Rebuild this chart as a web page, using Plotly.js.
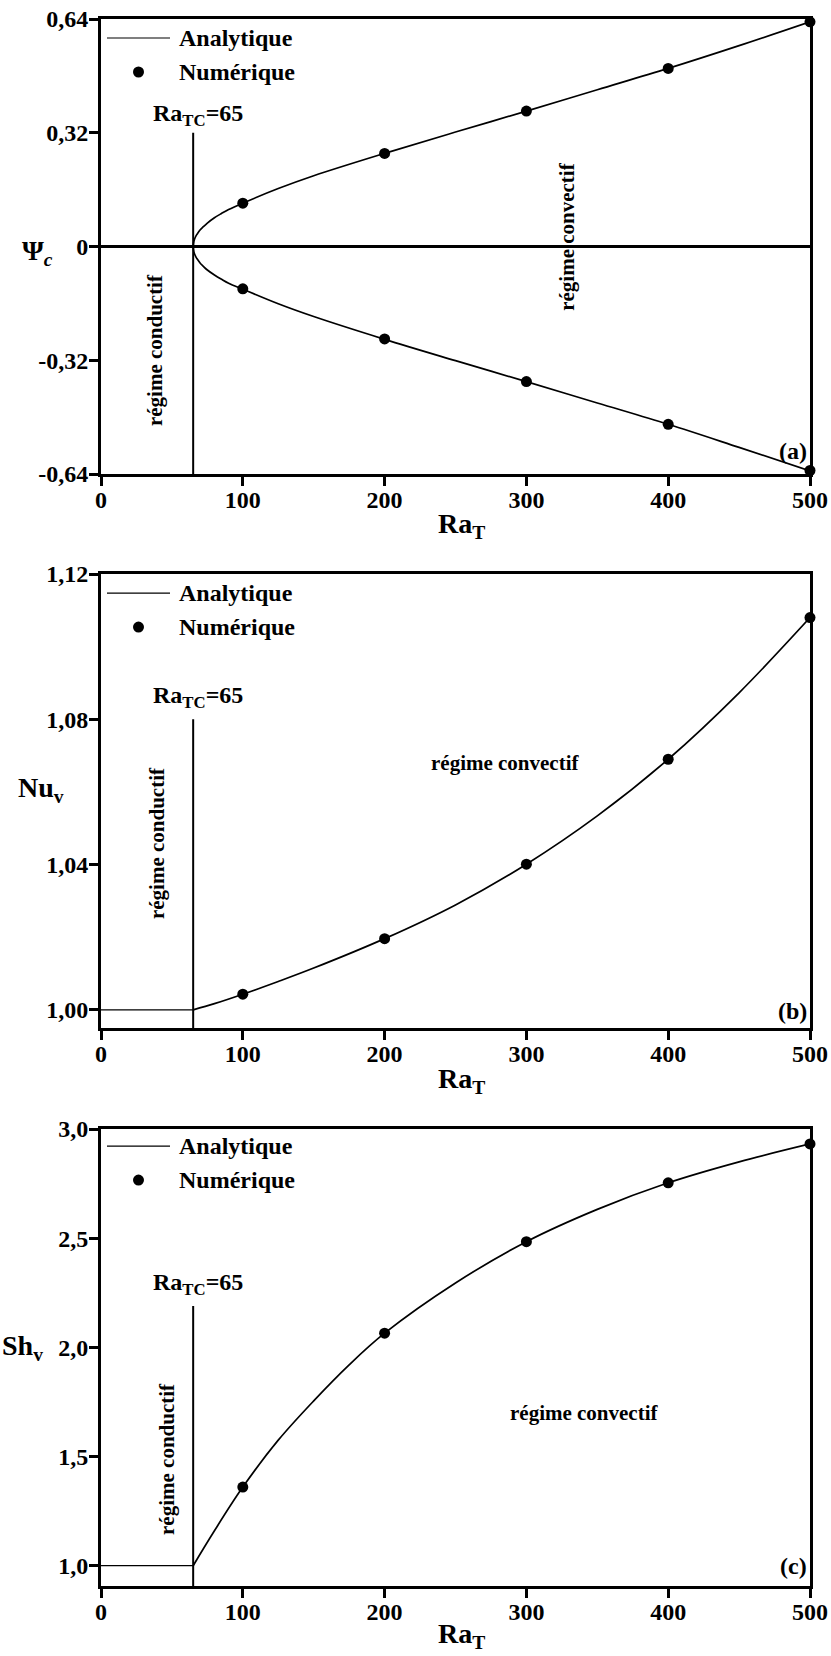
<!DOCTYPE html>
<html>
<head>
<meta charset="utf-8">
<script src="https://cdn.plot.ly/plotly-3.0.1.min.js"></script>
<style>html,body{margin:0;padding:0;background:#fff;}#chart{width:831px;height:1656px;}</style>
</head>
<body>
<div id="chart"></div>
<script>
// ---------- data ----------
const raTC = 65;
const raTicks = [0, 100, 200, 300, 400, 500];
const raTickText = ['0', '100', '200', '300', '400', '500'];

// numerical results
const raNum = [100, 200, 300, 400, 500];
const psiNumUp = [0.122, 0.262, 0.381, 0.501, 0.632];
const psiNumLow = [-0.119, -0.260, -0.380, -0.500, -0.630];
const nuNum = [1.0043, 1.0196, 1.0401, 1.0690, 1.1080];
const shNum = [1.360, 2.065, 2.484, 2.754, 2.932];

// analytical curves
const psiRa = [65, 65.5, 66, 67, 68, 70, 72, 75, 80, 85, 90, 100, 125, 150, 200, 250, 300, 350, 400, 450, 500];
const psiAnaUp = [0, 0.015, 0.021, 0.030, 0.036, 0.047, 0.055, 0.066, 0.081, 0.093, 0.104, 0.122, 0.163, 0.199, 0.262, 0.322, 0.381, 0.441, 0.501, 0.565, 0.632];
const psiAnaLow = [0, -0.015, -0.021, -0.030, -0.036, -0.047, -0.055, -0.066, -0.080, -0.092, -0.103, -0.120, -0.161, -0.197, -0.261, -0.321, -0.380, -0.440, -0.500, -0.565, -0.631];

const condRa = [0, 65];
const nuCond = [1, 1];
const shCond = [1, 1];

const nuRa = [65, 80, 100, 125, 150, 200, 250, 300, 350, 400, 450, 500];
const nuAna = [1.0, 1.0017, 1.0043, 1.0078, 1.0115, 1.0196, 1.0289, 1.0401, 1.0534, 1.0690, 1.0873, 1.1080];

const shRa = [65, 80, 100, 125, 150, 175, 200, 250, 300, 350, 400, 450, 500];
const shAna = [1.0, 1.16, 1.36, 1.575, 1.755, 1.92, 2.065, 2.295, 2.484, 2.632, 2.754, 2.85, 2.932];

// axis ticks
const psiTicks = [-0.64, -0.32, 0, 0.32, 0.64];
const psiTickText = ['-0,64', '-0,32', '0', '0,32', '0,64'];
const nuTicks = [1.00, 1.04, 1.08, 1.12];
const nuTickText = ['1,00', '1,04', '1,08', '1,12'];
const shTicks = [1.0, 1.5, 2.0, 2.5, 3.0];
const shTickText = ['1,0', '1,5', '2,0', '2,5', '3,0'];

const legendLabels = ['Analytique', 'Numérique'];
const panelLetters = ['(a)', '(b)', '(c)'];
const yTitles = ['Ψ<sub><i>c</i></sub>', 'Nu<sub>v</sub>', 'Sh<sub>v</sub>'];
const xTitle = 'Ra<sub>T</sub>';
const critLabel = 'Ra<sub>TC</sub>=65';
const condLabel = 'régime conductif';
const convLabel = 'régime convectif';
const critTop = [0.32, 1.08, 2.19];

// ---------- styling ----------
const FONT = 'Liberation Serif, Times New Roman, serif';
const BLACK = '#000';
const anaLine = {color: BLACK, width: 1.7, shape: 'spline', smoothing: 1};
const condLine = {color: BLACK, width: 1.2};
const numMarker = {color: BLACK, size: 11, symbol: 'circle'};

const traces = [];
// panel (a)
traces.push({x: psiRa.slice().reverse().concat(psiRa), y: psiAnaUp.slice().reverse().concat(psiAnaLow),
  mode: 'lines', line: anaLine, name: legendLabels[0], xaxis: 'x', yaxis: 'y', showlegend: false, cliponaxis: false});
traces.push({x: raNum.concat(raNum), y: psiNumUp.concat(psiNumLow), mode: 'markers', marker: numMarker,
  name: legendLabels[1], xaxis: 'x', yaxis: 'y', showlegend: false, cliponaxis: false});
// panel (b)
traces.push({x: condRa, y: nuCond, mode: 'lines', line: condLine, name: legendLabels[0], xaxis: 'x2', yaxis: 'y2', showlegend: false});
traces.push({x: nuRa, y: nuAna, mode: 'lines', line: anaLine, name: legendLabels[0], xaxis: 'x2', yaxis: 'y2', showlegend: false, cliponaxis: false});
traces.push({x: raNum, y: nuNum, mode: 'markers', marker: numMarker, name: legendLabels[1], xaxis: 'x2', yaxis: 'y2', showlegend: false, cliponaxis: false});
// panel (c)
traces.push({x: condRa, y: shCond, mode: 'lines', line: condLine, name: legendLabels[0], xaxis: 'x3', yaxis: 'y3', showlegend: false});
traces.push({x: shRa, y: shAna, mode: 'lines', line: anaLine, name: legendLabels[0], xaxis: 'x3', yaxis: 'y3', showlegend: false, cliponaxis: false});
traces.push({x: raNum, y: shNum, mode: 'markers', marker: numMarker, name: legendLabels[1], xaxis: 'x3', yaxis: 'y3', showlegend: false, cliponaxis: false});

function xAxis(anchor) {
  return {anchor: anchor, domain: [0, 1], range: [0, 500], tickvals: raTicks, ticktext: raTickText,
    showline: true, linewidth: 3, linecolor: BLACK, mirror: true, ticks: 'outside', ticklen: 9, tickwidth: 3,
    tickcolor: BLACK, showgrid: false, zeroline: false, ticklabelstandoff: -7,
    tickfont: {family: FONT, size: 24, color: BLACK, weight: 'bold'}};
}
function yAxis(anchor, domain, range, vals, text, zl) {
  return {anchor: anchor, domain: domain, range: range, tickvals: vals, ticktext: text,
    showline: true, linewidth: 3, linecolor: BLACK, mirror: true, ticks: 'outside', ticklen: 9, tickwidth: 3,
    tickcolor: BLACK, showgrid: false, zeroline: zl, zerolinewidth: 3, zerolinecolor: BLACK, ticklabelstandoff: -4,
    tickfont: {family: FONT, size: 24, color: BLACK, weight: 'bold'}};
}

const shapes = [];
const annotations = [];
const axIds = [['x', 'y'], ['x2', 'y2'], ['x3', 'y3']];
const bottoms = [-0.64, 0.995, 0.907];

const condPos = [[37.7, -0.29], [39, 1.046], [46, 1.49]];
const convPos = [[328.6, 0.03, -90], [285, 1.068, 0], [341, 1.70, 0]];
const critShift = [1, 5, 5];
const yTitlePos = [[-0.089, -6], [-0.085, 12], [-0.111, 10]];
const xTitleShift = [-32, -33, -30];
const letterShift = [8, 2, 5];
const legTop = [19, 19, 17];

axIds.forEach(function (ids, i) {
  const xr = ids[0], yr = ids[1];
  const xd = xr + ' domain', yd = yr + ' domain';
  // critical Rayleigh number marker
  shapes.push({type: 'line', xref: xr, yref: yr, x0: raTC, x1: raTC, y0: bottoms[i], y1: critTop[i],
    line: {color: BLACK, width: 2}});
  // legend: line sample and marker sample
  shapes.push({type: 'line', xref: xd, yref: yd, xsizemode: 'pixel', ysizemode: 'pixel', xanchor: 0, yanchor: 1,
    x0: 6, x1: 69, y0: -legTop[i], y1: -legTop[i], line: {color: BLACK, width: 1.2}});
  shapes.push({type: 'circle', xref: xd, yref: yd, xsizemode: 'pixel', ysizemode: 'pixel', xanchor: 0, yanchor: 1,
    x0: 32, x1: 43, y0: -legTop[i] - 39.5, y1: -legTop[i] - 28.5, fillcolor: BLACK, line: {width: 0}});
  const f24 = {family: FONT, size: 24, color: BLACK, weight: 'bold'};
  const f21 = {family: FONT, size: 21, color: BLACK, weight: 'bold'};
  const f28 = {family: FONT, size: 28, color: BLACK, weight: 'bold'};
  annotations.push({xref: xd, yref: yd, x: 0, y: 1, xshift: 76, yshift: -legTop[i], xanchor: 'left', yanchor: 'middle',
    text: '<b>' + legendLabels[0] + '</b>', showarrow: false, font: f24});
  annotations.push({xref: xd, yref: yd, x: 0, y: 1, xshift: 76, yshift: -legTop[i] - 34, xanchor: 'left', yanchor: 'middle',
    text: '<b>' + legendLabels[1] + '</b>', showarrow: false, font: f24});
  // Ra_TC label
  annotations.push({xref: xr, yref: yr, x: raTC, y: critTop[i], xshift: 5, yshift: critShift[i], xanchor: 'center', yanchor: 'bottom',
    text: '<b>' + critLabel + '</b>', showarrow: false, font: f24});
  // regime labels
  annotations.push({xref: xr, yref: yr, x: condPos[i][0], y: condPos[i][1], textangle: -90,
    text: '<b>' + condLabel + '</b>', showarrow: false, font: f21});
  annotations.push({xref: xr, yref: yr, x: convPos[i][0], y: convPos[i][1], textangle: convPos[i][2],
    text: '<b>' + convLabel + '</b>', showarrow: false, font: f21});
  // panel letter
  annotations.push({xref: xd, yref: yd, x: 1, y: 0, xshift: -1, yshift: letterShift[i], xanchor: 'right', yanchor: 'bottom',
    text: '<b>' + panelLetters[i] + '</b>', showarrow: false, font: f24});
  // axis titles
  annotations.push({xref: xd, yref: yd, x: yTitlePos[i][0], y: 0.5, yshift: yTitlePos[i][1], xanchor: 'center', yanchor: 'middle',
    text: '<b>' + yTitles[i] + '</b>', showarrow: false, font: f28});
  annotations.push({xref: xd, yref: yd, x: 0.508, y: 0, yshift: xTitleShift[i], xanchor: 'center', yanchor: 'top',
    text: '<b>' + xTitle + '</b>', showarrow: false, font: f28});
});

const layout = {
  width: 831, height: 1656,
  margin: {l: 101, r: 21, t: 19, b: 70},
  paper_bgcolor: '#fff', plot_bgcolor: '#fff',
  font: {family: FONT, color: BLACK},
  showlegend: false,
  xaxis: xAxis('y'),
  xaxis2: xAxis('y2'),
  xaxis3: xAxis('y3'),
  yaxis: yAxis('x', [0.7096, 1], [-0.64, 0.64], psiTicks, psiTickText, true),
  yaxis2: yAxis('x2', [0.3561, 0.6458], [0.995, 1.12], nuTicks, nuTickText, false),
  yaxis3: yAxis('x3', [0, 0.2916], [0.907, 3.0], shTicks, shTickText, false),
  shapes: shapes,
  annotations: annotations
};

Plotly.newPlot('chart', traces, layout, {staticPlot: true, displayModeBar: false});
</script>
</body>
</html>
